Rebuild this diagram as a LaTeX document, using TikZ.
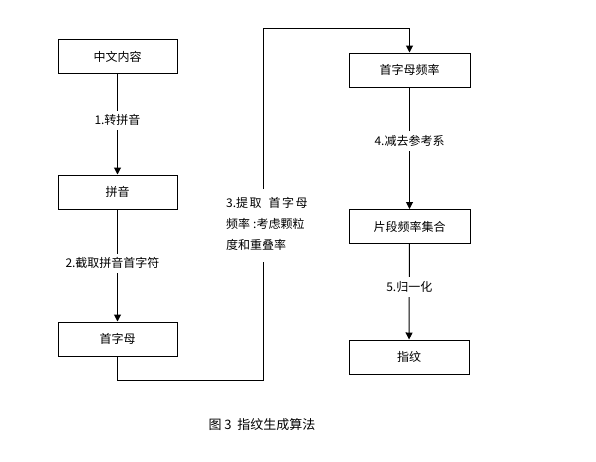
\documentclass[tikz,border=0pt]{standalone}
\usepackage{fontspec}
\setmainfont{Noto Sans CJK SC}
\usetikzlibrary{arrows.meta}
\begin{document}
\begin{tikzpicture}[x=1pt,y=-1pt,
  box/.style={draw,line width=1pt,minimum width=119pt,minimum height=34pt,inner sep=0pt,font=\fontsize{12}{14}\selectfont},
  lbl/.style={fill=white,inner xsep=1pt,inner ysep=4pt,font=\fontsize{12}{14}\selectfont},
  conn/.style={line width=1pt},
  arr/.style={line width=1pt,-{Triangle[length=7pt,width=7pt]}}]
\useasboundingbox (0,0) rectangle (596,461);
\node[box] (a) at (117.5,56.5) {中文内容};
\node[box] (b) at (117.5,192) {拼音};
\node[box] (c) at (117.5,339) {首字母};
\node[box,minimum width=121pt] (d) at (409.5,70) {首字母频率};
\node[box,minimum width=121pt] (e) at (409.5,226.5) {片段频率集合};
\node[box,minimum width=120pt] (f) at (409,357) {指纹};
\draw[arr] (a) -- (b) node[lbl,pos=0.46] (l1) {1.转拼音};
\draw[arr] (b) -- (c) node[lbl,pos=0.48,xshift=-5pt] (l2) {2.截取拼音首字符};
\draw[arr] (d) -- (e) node[lbl,pos=0.44] (l4) {4.减去参考系};
\draw[arr] (e) -- (f) node[lbl,pos=0.45] (l5) {5.归一化};
\coordinate (p1) at (263,380);
\coordinate (p2) at (263,28);
\node[anchor=north west,inner sep=0pt,align=left,font=\fontsize{12}{21}\selectfont] (l3) at (226,197)
  {3.提\kern1.5pt取\kern7pt首\kern1.5pt字\kern1.5pt母\\频率\kern3pt:考虑颗粒\\度和重叠率};
\draw[conn] (c.south) -- (c.south |- p1) -- (p1) -- ([yshift=-11pt]p1 |- l3.south);
\draw[arr] ([yshift=8pt]p2 |- l3.north) -- (p2) -| (d.north);
\node[font=\fontsize{13}{15}\selectfont,anchor=west] (cap) at (205,425) {图 3\ \ 指纹生成算法};
\end{tikzpicture}
\end{document}
